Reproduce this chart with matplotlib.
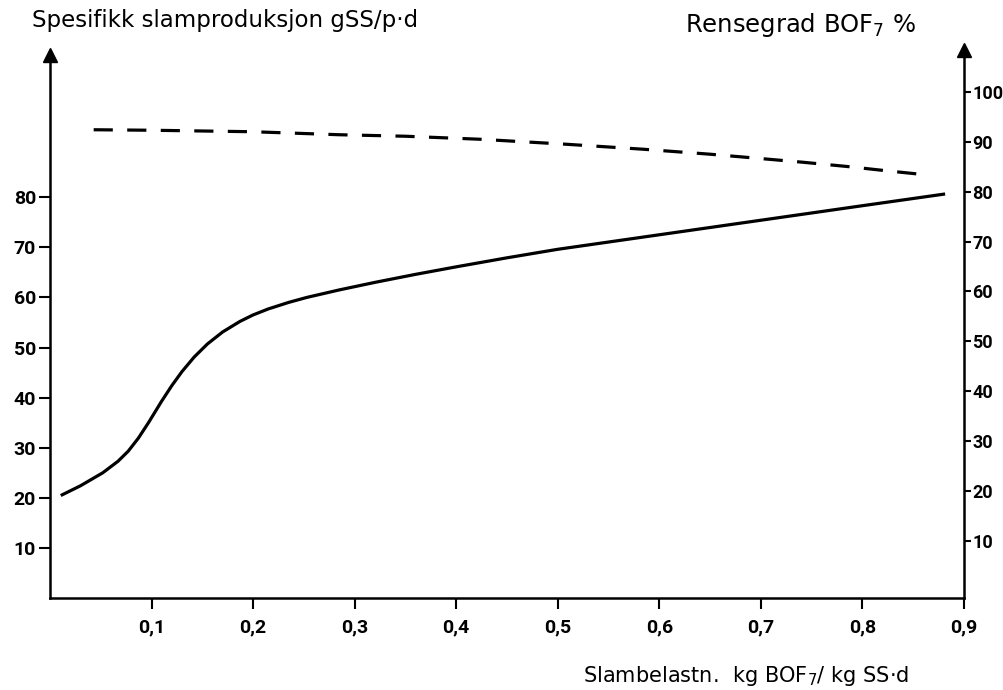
import numpy as np
import matplotlib
matplotlib.use("Agg")
import matplotlib.pyplot as plt

# solid curve, left axis (gSS/p.d)
slam_x = [0.012, 0.03, 0.052, 0.067, 0.077, 0.087, 0.097, 0.11, 0.12, 0.13,
          0.142, 0.155, 0.17, 0.187, 0.2, 0.215, 0.235, 0.253, 0.285, 0.32,
          0.36, 0.4, 0.45, 0.5, 0.6, 0.7, 0.8, 0.88]
slam_y = [20.6, 22.4, 25.0, 27.3, 29.3, 31.9, 35.0, 39.3, 42.4, 45.2,
          48.1, 50.7, 53.1, 55.2, 56.5, 57.7, 59.0, 60.0, 61.5, 63.0,
          64.6, 66.1, 67.9, 69.6, 72.5, 75.4, 78.3, 80.6]

# dashed curve, right axis (Rensegrad %)
rens_x = [0.043, 0.1, 0.2, 0.285, 0.35, 0.423, 0.508, 0.584, 0.65, 0.696,
          0.741, 0.787, 0.823, 0.866]
rens_y = [92.4, 92.3, 92.0, 91.4, 91.1, 90.5, 89.5, 88.5, 87.5, 86.7,
          85.9, 85.0, 84.2, 83.3]

x_ticks = [0.1, 0.2, 0.3, 0.4, 0.5, 0.6, 0.7, 0.8, 0.9]
x_labels = ["0,1", "0,2", "0,3", "0,4", "0,5", "0,6", "0,7", "0,8", "0,9"]
left_ticks = [10, 20, 30, 40, 50, 60, 70, 80]
right_ticks = [10, 20, 30, 40, 50, 60, 70, 80, 90, 100]

plt.rcParams['font.family'] = ['DejaVu Sans']

fig = plt.figure(figsize=(10.04, 6.9), dpi=100)
ax = fig.add_axes([0.0498, 0.1333, 0.9102, 0.806])
ax2 = ax.twinx()

ax.set_xlim(0, 0.9)
ax.set_ylim(0, 111)
ax2.set_ylim(-1.4, 110)

ax.plot(slam_x, slam_y, color='black', lw=2.3, solid_joinstyle='round')
ax2.plot(rens_x, rens_y, color='black', lw=2.3, linestyle=(0, (6, 4.5)))

for s in ['top', 'right']:
    ax.spines[s].set_visible(False)
for s in ['top', 'left', 'bottom']:
    ax2.spines[s].set_visible(False)
ax.spines['left'].set_linewidth(1.8)
ax.spines['bottom'].set_linewidth(1.8)
ax2.spines['right'].set_linewidth(1.8)
ax.spines['left'].set_bounds(0, 108.5)
ax2.spines['right'].set_bounds(-1.4, 108.5)

# arrow heads on the vertical axes
ax.plot(0, 108.3, marker='^', ms=10, color='black', clip_on=False, zorder=5)
ax2.plot(0.9, 108.3, marker='^', ms=10, color='black', clip_on=False, zorder=5)

ax.set_xticks(x_ticks)
ax.set_xticklabels(x_labels)
ax.set_yticks(left_ticks)
ax2.set_yticks(right_ticks)

ax.tick_params(axis='x', direction='out', length=8, width=1.5, pad=7, labelsize=14)
ax.tick_params(axis='y', direction='out', length=8, width=1.5, pad=2, labelsize=14)
ax2.tick_params(axis='y', direction='out', length=5, width=1.5, pad=1, labelsize=13)
for lab in ax.get_xticklabels() + ax.get_yticklabels() + ax2.get_yticklabels():
    lab.set_family('Roboto')
    lab.set_weight('bold')

fig.text(0.032, 0.971, "Spesifikk slamproduksjon gSS/p·d", fontsize=16.5,
         ha='left', va='center')
fig.text(0.682, 0.964, "Rensegrad BOF$_7$ %", fontsize=17.5, ha='left', va='center')
fig.text(0.581, 0.02, "Slambelastn.  kg BOF$_7$/ kg SS·d", fontsize=15,
         ha='left', va='center')

fig.savefig("out.png", dpi=100)
